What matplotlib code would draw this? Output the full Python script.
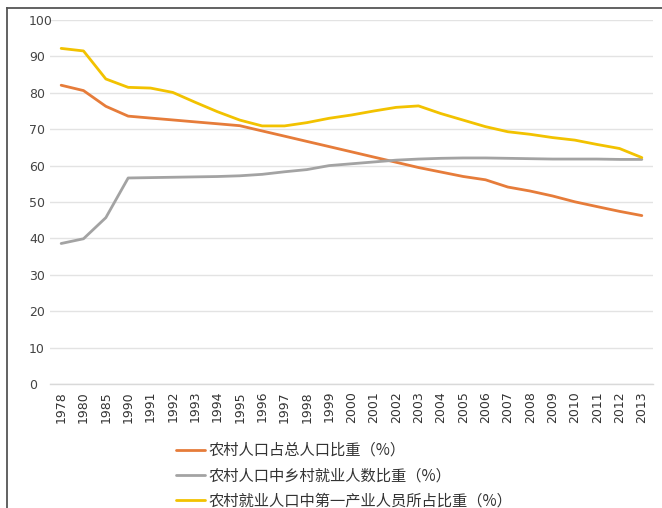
import matplotlib
matplotlib.use("Agg")
import matplotlib.pyplot as plt
from matplotlib.lines import Line2D

plt.rcParams['font.family'] = ['Noto Sans CJK SC', 'DejaVu Sans']

years = ['1978', '1980', '1985', '1990', '1991', '1992', '1993', '1994', '1995',
         '1996', '1997', '1998', '1999', '2000', '2001', '2002', '2003', '2004',
         '2005', '2006', '2007', '2008', '2009', '2010', '2011', '2012', '2013']

rural_pop_share = [82.08, 80.61, 76.29, 73.59, 73.06, 72.54, 72.01, 71.49, 70.96,
                   69.52, 68.09, 66.65, 65.22, 63.78, 62.34, 60.91, 59.47, 58.24,
                   57.01, 56.10, 54.11, 53.01, 51.66, 50.05, 48.73, 47.43, 46.27]

rural_employed_share = [38.6, 39.9, 45.7, 56.6, 56.7, 56.8, 56.9, 57.0, 57.2,
                        57.6, 58.3, 58.9, 60.0, 60.5, 61.0, 61.5, 61.8, 62.0,
                        62.1, 62.1, 62.0, 61.9, 61.8, 61.8, 61.8, 61.7, 61.7]

primary_industry_share = [92.2, 91.5, 83.8, 81.5, 81.3, 80.1, 77.4, 74.8, 72.5,
                          70.9, 70.9, 71.8, 73.0, 73.9, 75.0, 76.0, 76.4, 74.3,
                          72.5, 70.7, 69.3, 68.6, 67.7, 67.0, 65.8, 64.7, 62.2]

labels = ['农村人口占总人口比重（%）',
          '农村人口中乡村就业人数比重（%）',
          '农村就业人口中第一产业人员所占比重（%）']
colors = ['#E67C3A', '#A3A3A3', '#F2C200']
series = [rural_pop_share, rural_employed_share, primary_industry_share]

fig = plt.figure(figsize=(6.62, 5.08), dpi=100)
ax = fig.add_axes([50 / 662, 1 - 384 / 508, (653 - 50) / 662, (384 - 20) / 508])

x = list(range(len(years)))
for vals, col, lab in zip(series, colors, labels):
    ax.plot(x, vals, color=col, lw=2.0, label=lab, solid_capstyle='round')

ax.set_xlim(-0.5, len(years) - 0.5)
ax.set_ylim(0, 100)
ax.set_yticks(range(0, 101, 10))
ax.grid(axis='y', color='#E3E3E3', lw=1.0)
ax.set_axisbelow(True)
for s in ['top', 'right', 'left']:
    ax.spines[s].set_visible(False)
ax.spines['bottom'].set_color('#D9D9D9')
ax.spines['bottom'].set_linewidth(1.0)

ax.set_xticks(x)
ax.set_xticklabels(years, rotation=90, family='DejaVu Sans', fontsize=9,
                   color='#333333')
ax.tick_params(axis='x', length=0, pad=5)
ax.tick_params(axis='y', length=0, pad=15, labelsize=9, labelcolor='#444444')
for t in ax.get_yticklabels():
    t.set_horizontalalignment('left')
    t.set_family('DejaVu Sans')

fig.legend(loc='upper left', bbox_to_anchor=(176 / 662, 1 - 442 / 508),
           frameon=False, fontsize=11, handlelength=1.9, handletextpad=0.25,
           labelspacing=0.55, borderpad=0, borderaxespad=0,
           labelcolor='#333333')

# frame around the figure
fig.add_artist(Line2D([7 / 662, 1], [1 - 8 / 508, 1 - 8 / 508],
                      transform=fig.transFigure, color='#555555', lw=1.3))
fig.add_artist(Line2D([7 / 662, 7 / 662], [0, 1 - 8 / 508],
                      transform=fig.transFigure, color='#555555', lw=1.3))

fig.savefig('out.png', dpi=100)
